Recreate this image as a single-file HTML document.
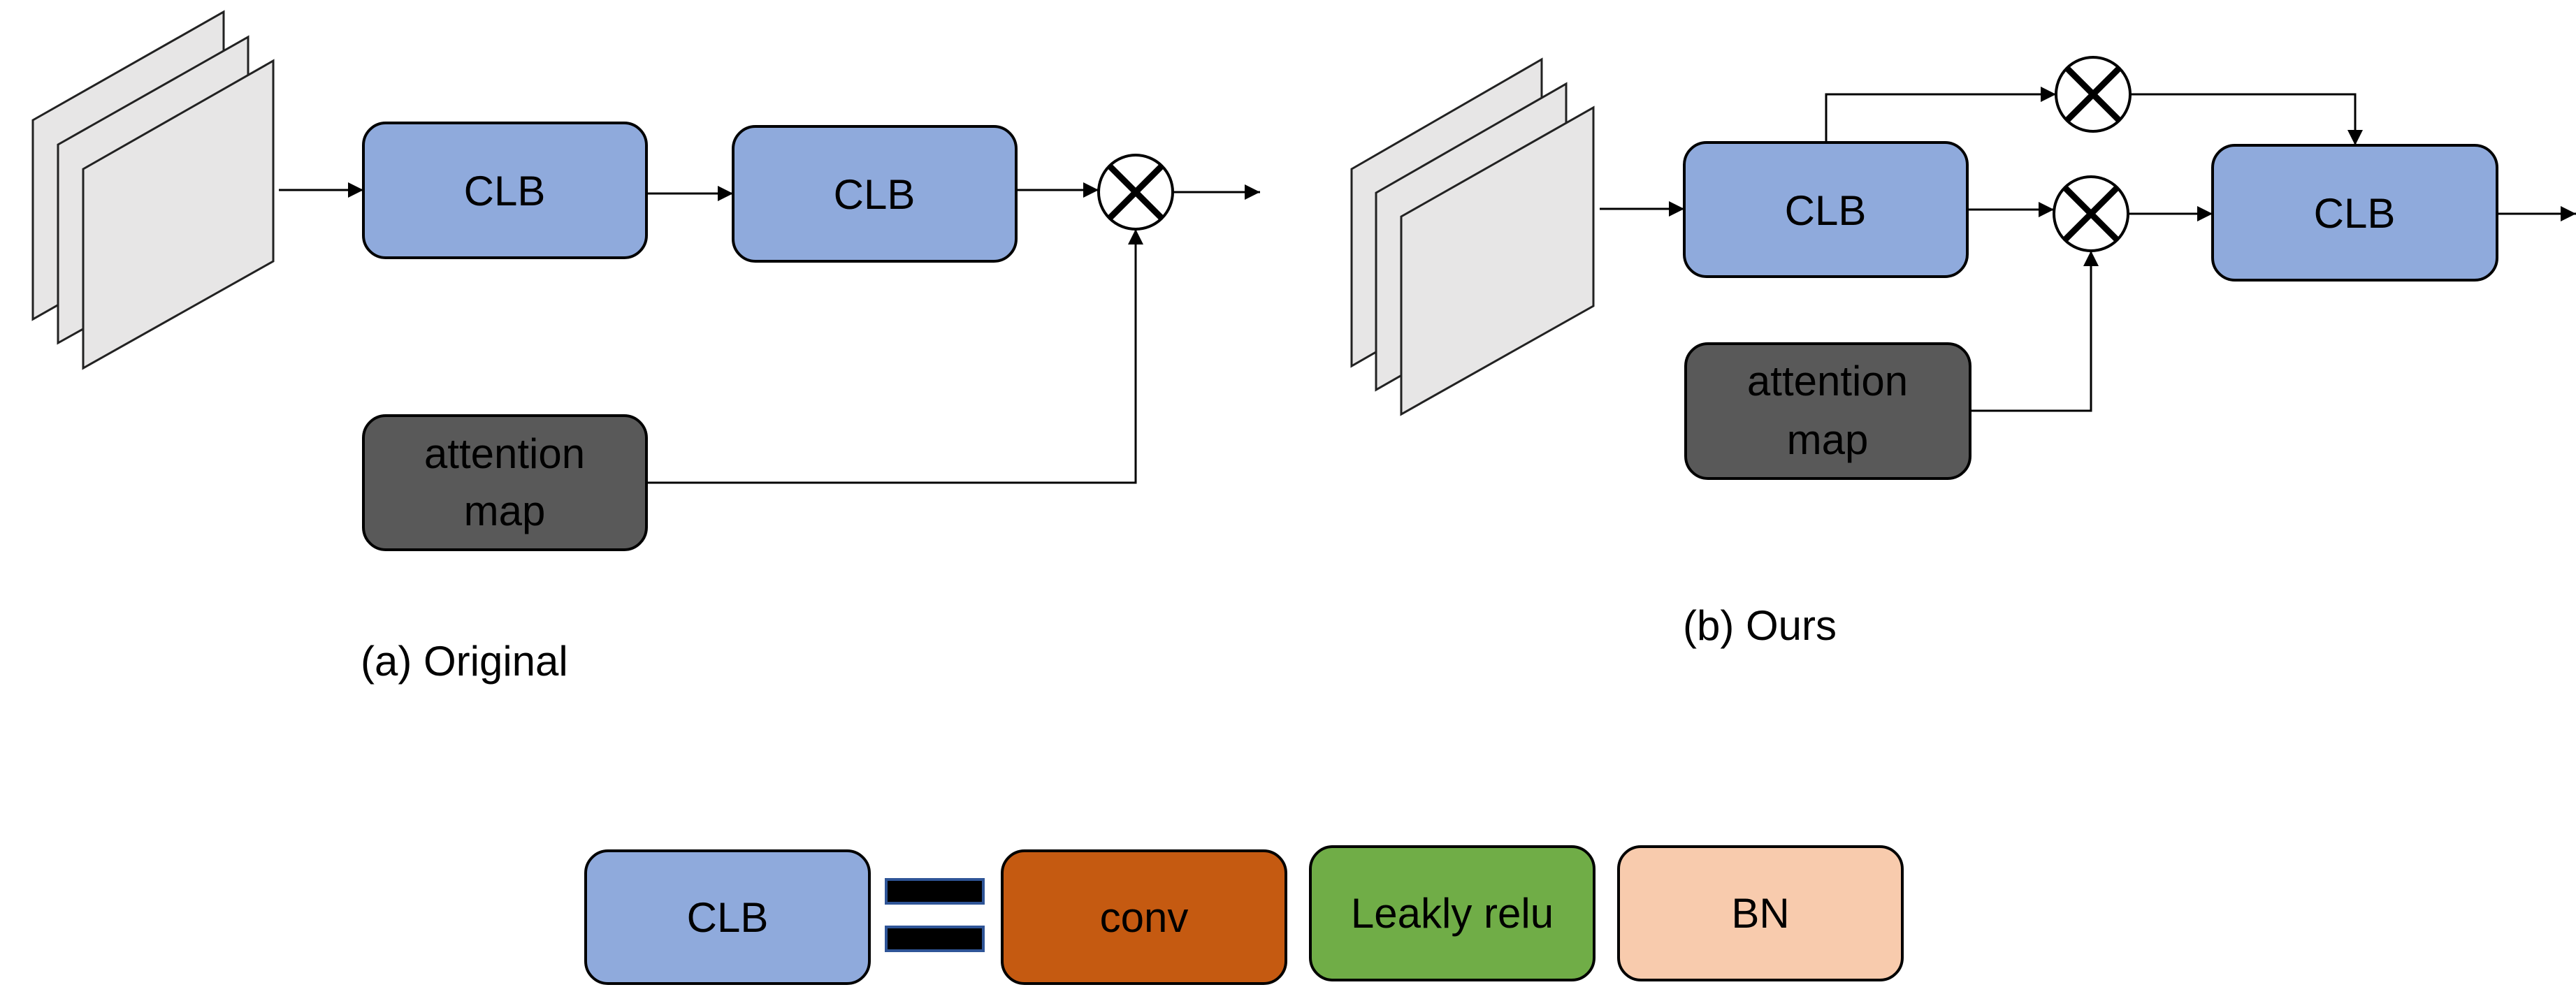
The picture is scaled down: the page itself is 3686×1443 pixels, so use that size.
<!DOCTYPE html>
<html><head><meta charset="utf-8"><style>
html,body{margin:0;padding:0;background:#fff;}
svg{display:block;}
text{font-family:"Liberation Sans","Noto Sans CJK SC",sans-serif;fill:#000;}
</style></head><body>
<svg width="3686" height="1443" viewBox="0 0 3686 1443" xmlns="http://www.w3.org/2000/svg">
<defs>
<marker id="ah" viewBox="0 0 10 10" refX="10" refY="5" markerWidth="22" markerHeight="22" markerUnits="userSpaceOnUse" orient="auto">
<path d="M0,0 L10,5 L0,10 z" fill="#000"/></marker>
</defs>
<g stroke="#222" stroke-width="3" fill="#e7e6e6">
<!-- left stack -->
<polygon points="47,172 320,17 320,302 47,457"/>
<polygon points="83,207 355,53 355,339 83,491"/>
<polygon points="119,242 391,87 391,374 119,527"/>
<!-- right stack -->
<polygon points="1934,242 2206,85 2206,368 1934,524"/>
<polygon points="1969,276 2241,120 2241,403 1969,558"/>
<polygon points="2005,310 2280,154 2280,438 2005,593"/>
</g>
<g stroke="#000" stroke-width="4">
<rect x="520" y="176" width="405" height="193" rx="32" fill="#8faadc"/>
<rect x="1049" y="181" width="405" height="193" rx="32" fill="#8faadc"/>
<rect x="520" y="595" width="405" height="192" rx="32" fill="#595959"/>
<rect x="2410" y="204" width="405" height="192" rx="32" fill="#8faadc"/>
<rect x="3166" y="208" width="407" height="193" rx="32" fill="#8faadc"/>
<rect x="2412" y="492" width="407" height="193" rx="32" fill="#595959"/>
<rect x="838" y="1218" width="406" height="190" rx="32" fill="#8faadc"/>
<rect x="1434" y="1218" width="406" height="190" rx="32" fill="#c55a11"/>
<rect x="1875" y="1212" width="406" height="191" rx="32" fill="#70ad47"/>
<rect x="2316" y="1212" width="406" height="191" rx="32" fill="#f8cbad"/>
</g>
<g stroke="#2f5597" stroke-width="4" fill="#000">
<rect x="1268" y="1259" width="139" height="34"/>
<rect x="1268" y="1327" width="139" height="34"/>
</g>
<!-- connectors -->
<g stroke="#000" stroke-width="3" fill="none" marker-end="url(#ah)">
<line x1="399" y1="272" x2="520" y2="272"/>
<line x1="925" y1="277" x2="1049" y2="277"/>
<line x1="1454" y1="272" x2="1572" y2="272"/>
<line x1="1678" y1="275" x2="1803" y2="275"/>
<polyline points="925,691 1625,691 1625,328"/>
<line x1="2289" y1="299" x2="2410" y2="299"/>
<polyline points="2613,204 2613,135 2942,135"/>
<polyline points="3048,135 3370,135 3370,208"/>
<line x1="2815" y1="300" x2="2939" y2="300"/>
<line x1="3045" y1="306" x2="3166" y2="306"/>
<line x1="3573" y1="306" x2="3686" y2="306"/>
<polyline points="2819,588 2992,588 2992,359"/>
</g>
<!-- multiply circles -->
<g stroke="#000" fill="#fff">
<g transform="translate(1625,275)"><circle r="53" stroke-width="4"/><path d="M-37,-37 L37,37 M37,-37 L-37,37" stroke-width="9"/></g>
<g transform="translate(2995,135)"><circle r="53" stroke-width="4"/><path d="M-37,-37 L37,37 M37,-37 L-37,37" stroke-width="9"/></g>
<g transform="translate(2992,306)"><circle r="53" stroke-width="4"/><path d="M-37,-37 L37,37 M37,-37 L-37,37" stroke-width="9"/></g>
</g>
<g font-size="60" text-anchor="middle">
<text x="722" y="294">CLB</text>
<text x="1251" y="299">CLB</text>
<text x="722" y="670">attention</text>
<text x="722" y="752">map</text>
<text x="2612" y="322">CLB</text>
<text x="3369" y="326">CLB</text>
<text x="2615" y="566">attention</text>
<text x="2615" y="650">map</text>
<text x="1041" y="1334">CLB</text>
<text x="1637" y="1334">conv</text>
<text x="2078" y="1328">Leakly relu</text>
<text x="2519" y="1328">BN</text>
</g>
<g font-size="60">
<text x="516" y="967">(a) Original</text>
<text x="2408" y="916">(b) Ours</text>
</g>
</svg>
</body></html>
